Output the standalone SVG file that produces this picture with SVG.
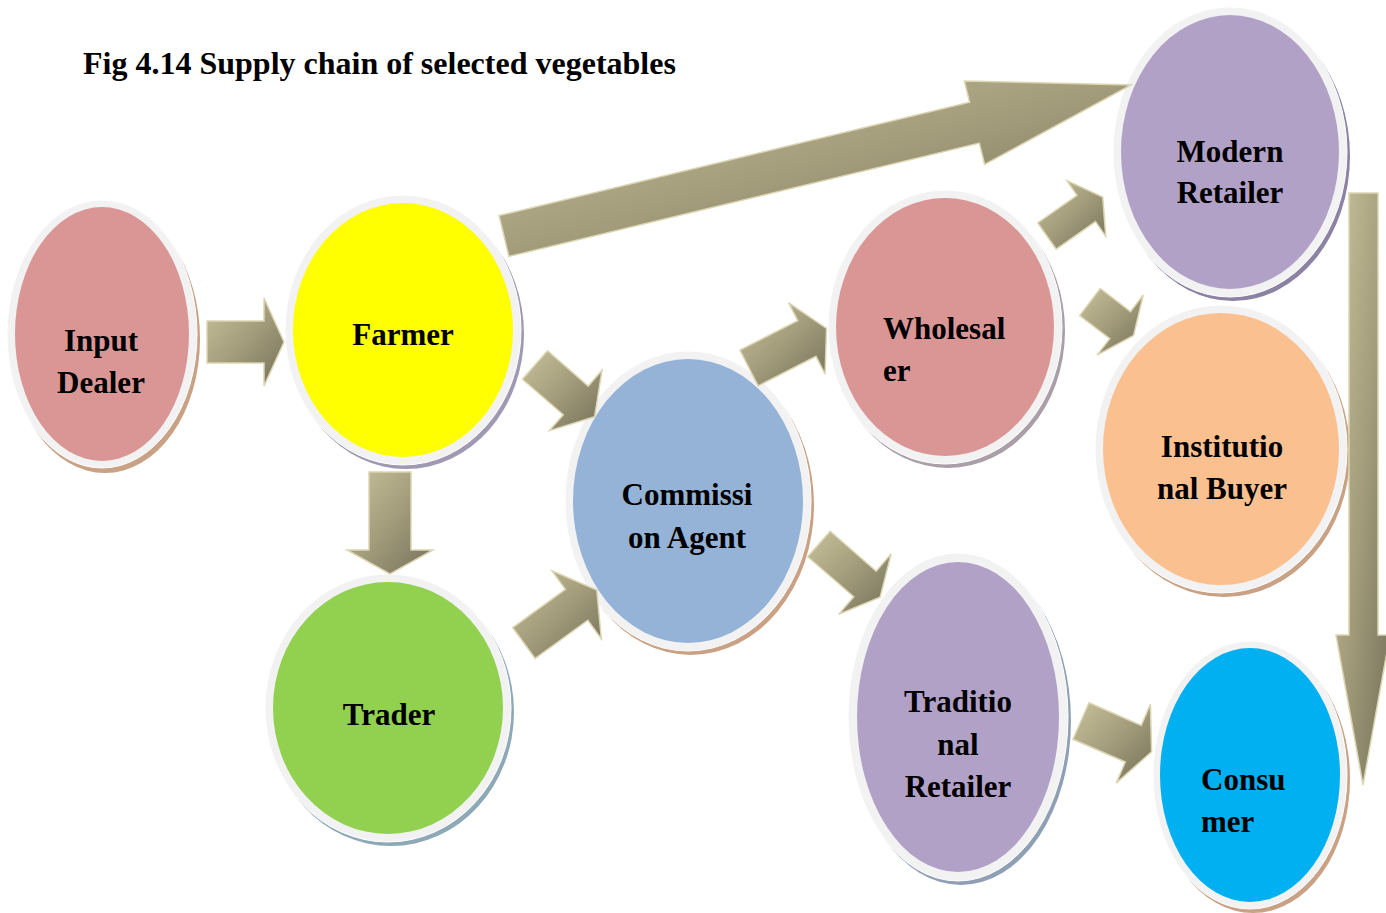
<svg xmlns="http://www.w3.org/2000/svg" width="1386" height="913" viewBox="0 0 1386 913">
<defs>
<linearGradient id="ag" x1="0" y1="0" x2="1" y2="1">
<stop offset="0" stop-color="#c8c19b"/>
<stop offset="0.5" stop-color="#a29c7b"/>
<stop offset="1" stop-color="#75705a"/>
</linearGradient>
</defs>
<style>
.ring{fill:#f2f2f2;stroke:#ffffff;stroke-width:1}
.lbl{font-family:"Liberation Serif","Times New Roman",serif;font-weight:bold;font-size:31px;fill:#000}
.mid{text-anchor:middle}
.title{font-family:"Liberation Serif","Times New Roman",serif;font-weight:bold;font-size:32px;fill:#000}
.arr{fill:url(#ag);stroke:#dcd5b3;stroke-width:1.5;stroke-linejoin:miter}
</style>
<rect width="1386" height="913" fill="#ffffff"/>
<text class="title" x="83" y="74">Fig 4.14 Supply chain of selected vegetables</text>

<g id="node-input-dealer">
<ellipse cx="105" cy="339" rx="95" ry="134" fill="#c9a184"/>
<ellipse class="ring" cx="102" cy="334" rx="95" ry="134"/>
<ellipse cx="102" cy="334" rx="87" ry="127" fill="#d99694"/>
<text class="lbl mid" x="101" y="351">Input</text>
<text class="lbl mid" x="101" y="393">Dealer</text>
</g>

<g id="node-farmer">
<ellipse cx="406" cy="334" rx="118" ry="135" fill="#9f9ab2"/>
<ellipse class="ring" cx="403" cy="330" rx="118" ry="135"/>
<ellipse cx="403" cy="330" rx="110" ry="127" fill="#ffff00"/>
<text class="lbl mid" x="403" y="345">Farmer</text>
</g>

<g id="node-trader">
<ellipse cx="391" cy="712" rx="123" ry="134" fill="#8ea9b6"/>
<ellipse class="ring" cx="388" cy="708" rx="123" ry="134"/>
<ellipse cx="388" cy="708" rx="115" ry="126" fill="#92d050"/>
<text class="lbl mid" x="389" y="725">Trader</text>
</g>

<g id="node-commission-agent">
<ellipse cx="691" cy="505" rx="123" ry="150" fill="#c9a184"/>
<ellipse class="ring" cx="688" cy="501" rx="123" ry="150"/>
<ellipse cx="688" cy="501" rx="115" ry="142" fill="#95b3d7"/>
<text class="lbl mid" x="687" y="505">Commissi</text>
<text class="lbl mid" x="687" y="548">on Agent</text>
</g>

<g id="node-wholesaler">
<ellipse cx="948" cy="331" rx="117" ry="137" fill="#aa9ea8"/>
<ellipse class="ring" cx="945" cy="327" rx="117" ry="137"/>
<ellipse cx="945" cy="327" rx="109" ry="129" fill="#d99694"/>
<text class="lbl" x="883" y="339">Wholesal</text>
<text class="lbl" x="883" y="381">er</text>
</g>

<g id="node-modern-retailer">
<ellipse cx="1233" cy="156" rx="117" ry="145" fill="#8c82a4"/>
<ellipse class="ring" cx="1230" cy="152" rx="117" ry="145"/>
<ellipse cx="1230" cy="152" rx="109" ry="137" fill="#b2a1c7"/>
<text class="lbl mid" x="1230" y="162">Modern</text>
<text class="lbl mid" x="1230" y="203">Retailer</text>
</g>

<g id="node-institutional-buyer">
<ellipse cx="1224" cy="453" rx="126" ry="144" fill="#c9a184"/>
<ellipse class="ring" cx="1221" cy="449" rx="126" ry="144"/>
<ellipse cx="1221" cy="449" rx="118" ry="136" fill="#fac090"/>
<text class="lbl mid" x="1222" y="457">Institutio</text>
<text class="lbl mid" x="1222" y="499">nal Buyer</text>
</g>

<g id="node-traditional-retailer">
<ellipse cx="961" cy="721" rx="110" ry="164" fill="#8fa0b4"/>
<ellipse class="ring" cx="958" cy="717" rx="110" ry="164"/>
<ellipse cx="958" cy="717" rx="101" ry="155" fill="#b2a1c7"/>
<text class="lbl mid" x="958" y="712">Traditio</text>
<text class="lbl mid" x="958" y="755">nal</text>
<text class="lbl mid" x="958" y="797">Retailer</text>
</g>

<g id="node-consumer">
<ellipse cx="1253" cy="779" rx="97" ry="134" fill="#c9a184"/>
<ellipse class="ring" cx="1250" cy="775" rx="97" ry="134"/>
<ellipse cx="1250" cy="775" rx="90" ry="127" fill="#00b0f0"/>
<text class="lbl" x="1201" y="790">Consu</text>
<text class="lbl" x="1201" y="832">mer</text>
</g>

<g id="connectors">
<polygon class="arr" points="207,321 264,321 264,298 284,342 264,386 264,363 207,363"/>
<polygon class="arr" points="369,472 411,472 411,550 433,550 390,574 347,550 369,550"/>
<polygon class="arr" points="499.1,215.6 969.6,102.3 964.4,80.9 1131,85 984.6,164.5 979.4,143.1 508.9,256.4"/>
<polygon class="arr" points="547.5,350.7 588.2,386.1 602,370.2 594.6,416.8 549.5,430.6 563.3,414.7 522.5,379.3"/>
<polygon class="arr" points="512.8,627.6 565.4,589.4 551.9,570.8 596.8,590.1 601.3,638.8 587.8,620.2 535.2,658.4"/>
<polygon class="arr" points="739.9,350.2 797.8,320.7 788.7,302.9 826.5,328.5 825.1,374.1 816,356.3 758.1,385.8"/>
<polygon class="arr" points="1037.8,222.9 1077.1,195.4 1066.8,180.6 1102.7,197 1105.8,236.4 1095.5,221.6 1056.2,249.1"/>
<polygon class="arr" points="1100.3,288.5 1130.5,311.6 1143.2,295 1133.6,335.5 1097,355.2 1109.8,338.6 1079.7,315.5"/>
<polygon class="arr" points="830.2,531.2 876.2,571.2 891.2,553.8 880.1,597.1 838.8,614.2 853.8,596.8 807.8,556.8"/>
<polygon class="arr" points="1089,702.7 1141.3,725.4 1150.4,704.3 1151.6,751.7 1116.2,783.1 1125.3,762 1073,739.3"/>
<polygon class="arr" points="1349,193 1378,193 1378,635 1390,635 1363,785 1336,635 1349,635"/>
</g>
</svg>
